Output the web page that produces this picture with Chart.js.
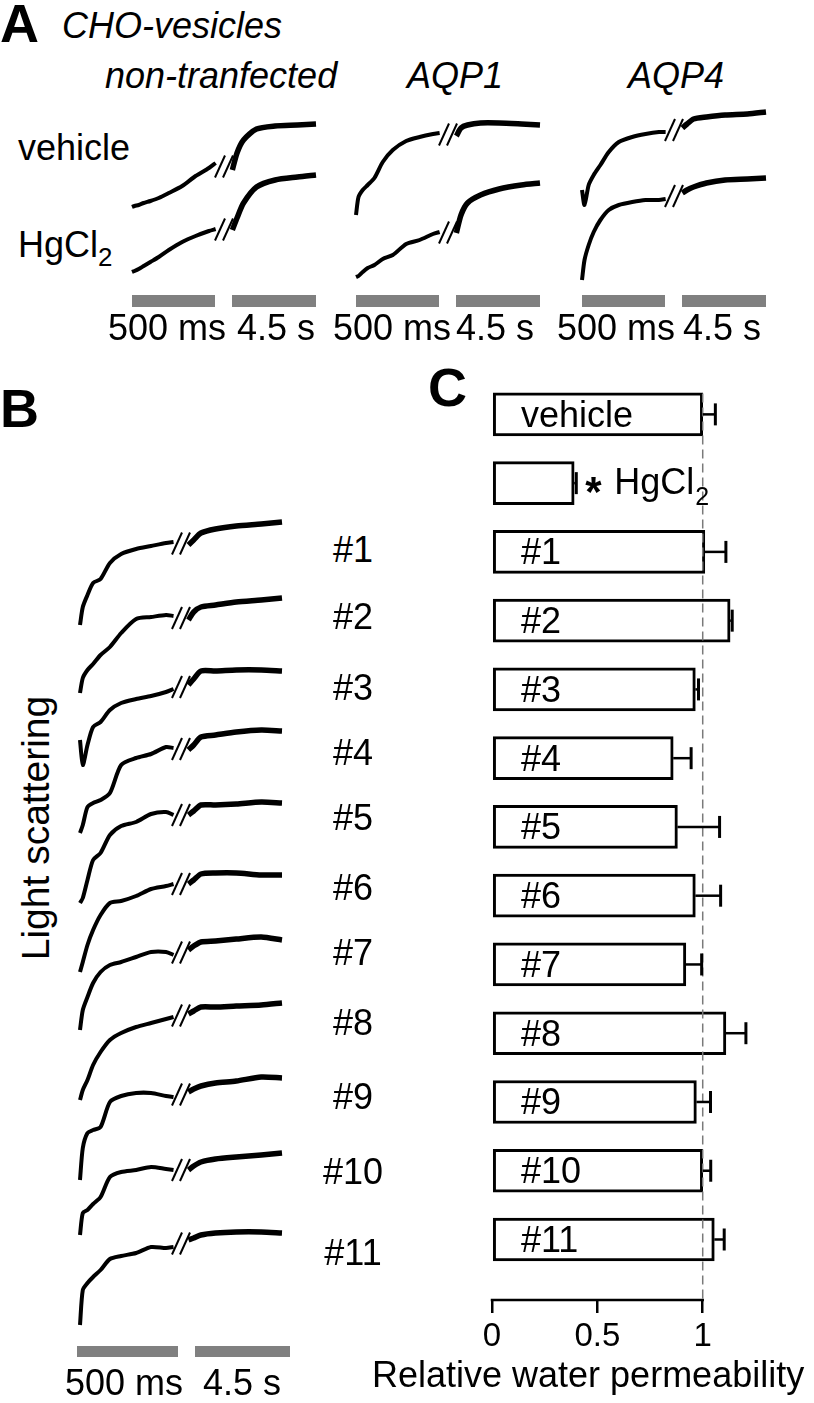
<!DOCTYPE html>
<html>
<head>
<meta charset="utf-8">
<title>CHO vesicles - water permeability</title>
<script src="https://cdn.jsdelivr.net/npm/chart.js@4.4.1/dist/chart.umd.min.js"></script>
<style>
  html, body { margin: 0; padding: 0; background: #fff; }
  #figure {
    position: relative;
    width: 814px;
    height: 1403px;
    overflow: hidden;
    font-family: "Liberation Sans", Arial, sans-serif;
    color: #000;
  }
  #figure canvas { position: absolute; }
  .txt { position: absolute; white-space: nowrap; line-height: 1; }
  .txt .sub { font-size: 0.72em; position: relative; top: 0.38em; }
  .scalebar { position: absolute; background: #808080; }
</style>
</head>
<body>
<div id="figure"></div>
<script>
// time samples of the stopped-flow traces (fast part / slow part)
const fastTimesMs = [0, 15, 40, 70, 110, 160, 220, 300, 380, 460, 500];
const slowTimesS = [0.5, 0.75, 1.1, 1.8, 2.8, 4.0, 5.0];

// panel A: light scattering (a.u.), vehicle and HgCl2
const cellTypes = ["non-tranfected", "AQP1", "AQP4"];
const nonTfVehicleFast = [0.03, 0.04, 0.05, 0.07, 0.09, 0.12, 0.17, 0.24, 0.34, 0.42, 0.47];
const nonTfVehicleSlow = [0.40, 0.57, 0.70, 0.81, 0.84, 0.85, 0.86];
const nonTfHgFast = [0.03, 0.04, 0.06, 0.09, 0.13, 0.18, 0.25, 0.33, 0.39, 0.44, 0.46];
const nonTfHgSlow = [0.45, 0.57, 0.72, 0.88, 0.95, 0.98, 1.00];
const aqp1VehicleFast = [0.05, 0.23, 0.30, 0.35, 0.42, 0.58, 0.70, 0.79, 0.83, 0.86, 0.87];
const aqp1VehicleSlow = [0.84, 0.92, 0.95, 0.97, 0.97, 0.96, 0.95];
const aqp1HgFast = [0.03, 0.04, 0.08, 0.12, 0.15, 0.21, 0.25, 0.36, 0.40, 0.46, 0.48];
const aqp1HgSlow = [0.47, 0.65, 0.77, 0.85, 0.91, 0.95, 0.97];
const aqp4VehicleFast = [0.20, 0.05, 0.25, 0.35, 0.45, 0.58, 0.68, 0.73, 0.76, 0.78, 0.78];
const aqp4VehicleSlow = [0.82, 0.86, 0.91, 0.93, 0.95, 0.96, 0.98];
const aqp4HgFast = [0.02, 0.22, 0.37, 0.50, 0.62, 0.72, 0.77, 0.80, 0.82, 0.82, 0.83];
const aqp4HgSlow = [0.89, 0.92, 0.95, 0.99, 1.02, 1.03, 1.04];

// panel B: light scattering (a.u.) of clones #1..#11
const cloneFast = [
  [0.00, 0.18, 0.30, 0.42, 0.46, 0.62, 0.71, 0.76, 0.79, 0.82, 0.83],
  [0.00, 0.15, 0.23, 0.29, 0.38, 0.46, 0.60, 0.74, 0.76, 0.78, 0.77],
  [0.30, 0.05, 0.25, 0.43, 0.48, 0.60, 0.67, 0.71, 0.74, 0.78, 0.81],
  [0.00, 0.08, 0.26, 0.30, 0.33, 0.40, 0.68, 0.75, 0.79, 0.86, 0.85],
  [-0.03, 0.02, 0.20, 0.40, 0.47, 0.65, 0.74, 0.78, 0.86, 0.88, 0.85],
  [-0.02, 0.08, 0.25, 0.40, 0.55, 0.67, 0.69, 0.74, 0.81, 0.84, 0.86],
  [0.07, 0.27, 0.40, 0.54, 0.65, 0.72, 0.75, 0.80, 0.85, 0.85, 0.82],
  [0.07, 0.17, 0.27, 0.42, 0.55, 0.67, 0.74, 0.80, 0.84, 0.88, 0.90],
  [0.00, 0.32, 0.47, 0.50, 0.53, 0.78, 0.84, 0.87, 0.87, 0.84, 0.83],
  [0.05, 0.27, 0.30, 0.36, 0.43, 0.63, 0.68, 0.70, 0.73, 0.71, 0.70],
  [0.03, 0.38, 0.45, 0.51, 0.58, 0.69, 0.72, 0.75, 0.81, 0.80, 0.81]
];
const cloneSlow = [
  [0.80, 0.85, 0.92, 0.96, 0.99, 1.01, 1.03],
  [0.73, 0.81, 0.86, 0.88, 0.91, 0.93, 0.95],
  [0.85, 0.91, 0.99, 0.99, 1.00, 1.00, 0.99],
  [0.83, 0.88, 0.96, 0.98, 1.01, 1.03, 1.02],
  [0.85, 0.89, 0.95, 0.95, 0.96, 0.98, 0.97],
  [0.86, 0.90, 0.96, 0.97, 0.97, 0.95, 0.95],
  [0.87, 0.91, 0.95, 0.96, 0.98, 1.00, 0.97],
  [0.93, 0.96, 1.00, 1.00, 1.01, 1.02, 1.04],
  [0.88, 0.91, 0.94, 0.97, 0.99, 1.03, 1.02],
  [0.70, 0.74, 0.78, 0.81, 0.83, 0.85, 0.87],
  [0.88, 0.90, 0.93, 0.95, 0.96, 0.96, 0.95]
];

// panel C: relative water permeability, mean and SEM
const conditions = ["vehicle", "HgCl2", "#1", "#2", "#3", "#4", "#5", "#6", "#7", "#8", "#9", "#10", "#11"];
const permeability = [1.00, 0.39, 1.01, 1.13, 0.965, 0.86, 0.88, 0.965, 0.92, 1.11, 0.97, 1.00, 1.055];
const permeabilitySem = [0.06, 0.01, 0.10, 0.01, 0.015, 0.085, 0.20, 0.12, 0.075, 0.095, 0.067, 0.038, 0.047];
const xTicks = [0, 0.5, 1];

const FONT = '"Liberation Sans", Arial, sans-serif';
const fig = document.getElementById("figure");

function addCanvas(left, top, width, height) {
  const c = document.createElement("canvas");
  c.width = width;
  c.height = height;
  c.style.left = left + "px";
  c.style.top = top + "px";
  fig.appendChild(c);
  return c;
}

function addText(html, x, baseline, size, opts = {}) {
  const el = document.createElement("div");
  el.className = "txt";
  el.innerHTML = html;
  el.style.fontSize = size + "px";
  el.style.left = x + "px";
  el.style.top = (baseline - 0.8465 * size) + "px";
  if (opts.italic) el.style.fontStyle = "italic";
  if (opts.bold) el.style.fontWeight = "bold";
  if (opts.center) el.style.transform = "translateX(-50%)";
  fig.appendChild(el);
  return el;
}

function addScaleBar(left, top, width, height) {
  const el = document.createElement("div");
  el.className = "scalebar";
  el.style.left = left + "px";
  el.style.top = top + "px";
  el.style.width = width + "px";
  el.style.height = height + "px";
  fig.appendChild(el);
}

// "//" marks between the fast and the slow part of a trace
const breakMarks = {
  id: "breakMarks",
  afterDatasetsDraw(chart) {
    const { ctx, scales: { x, y } } = chart;
    const fast = chart.data.datasets[0].data;
    const slow = chart.data.datasets[1].data;
    const a = fast[fast.length - 1];
    const b = slow[0];
    const cx = (x.getPixelForValue(a.x) + x.getPixelForValue(b.x)) / 2;
    const cy = (y.getPixelForValue(a.y) + y.getPixelForValue(b.y)) / 2;
    ctx.save();
    ctx.strokeStyle = "#000";
    ctx.lineWidth = 2;
    [-4, 4].forEach((off) => {
      ctx.beginPath();
      ctx.moveTo(cx + off - 5, cy + 11);
      ctx.lineTo(cx + off + 5, cy - 11);
      ctx.stroke();
    });
    ctx.restore();
  }
};

function drawTrace(left, top, width, fast, slow, gapStart) {
  const canvas = addCanvas(left - 10, top, width + 20, 120);
  const lineStyle = {
    borderColor: "#000",
    borderJoinStyle: "round",
    pointRadius: 0,
    tension: 0.25,
    fill: false,
    clip: false
  };
  return new Chart(canvas, {
    type: "line",
    data: {
      datasets: [
        Object.assign({ data: fastTimesMs.map((t, i) => ({ x: t / 500, y: fast[i] })), borderWidth: 4 }, lineStyle),
        Object.assign({ data: slowTimesS.map((t, i) => ({ x: gapStart + (t - 0.5) / 4.5, y: slow[i] })), borderWidth: 5.5 }, lineStyle)
      ]
    },
    options: {
      responsive: false,
      animation: false,
      events: [],
      layout: { padding: { left: 10, right: 10, top: 0, bottom: 0 } },
      plugins: { legend: { display: false }, tooltip: { enabled: false } },
      scales: {
        x: { type: "linear", min: 0, max: gapStart + 1, display: false, offset: false },
        y: { type: "linear", min: -0.1, max: 1.1, display: false, offset: false }
      }
    },
    plugins: [breakMarks]
  });
}

// ---------- panel A ----------
addText("A", 0, 42, 54, { bold: true });
addText("CHO-vesicles", 62, 38, 36, { italic: true });
addText(cellTypes[0], 105, 88, 36, { italic: true });
addText(cellTypes[1], 407, 88, 36, { italic: true });
addText(cellTypes[2], 628, 88, 36, { italic: true });
addText("vehicle", 18, 160, 36);
addText('HgCl<span class="sub">2</span>', 18, 257, 36);

const groupLeft = [132, 356, 582];
const vehicleBase = [210, 220, 210];
const hgBase = [275, 280, 282];
const panelAVehicle = [[nonTfVehicleFast, nonTfVehicleSlow], [aqp1VehicleFast, aqp1VehicleSlow], [aqp4VehicleFast, aqp4VehicleSlow]];
const panelAHg = [[nonTfHgFast, nonTfHgSlow], [aqp1HgFast, aqp1HgSlow], [aqp4HgFast, aqp4HgSlow]];
const scaleLabelA = [[108, 237], [333, 456], [557, 683]];

groupLeft.forEach((gl, g) => {
  drawTrace(gl, vehicleBase[g] - 110, 184, panelAVehicle[g][0], panelAVehicle[g][1], 1.2);
  drawTrace(gl, hgBase[g] - 110, 184, panelAHg[g][0], panelAHg[g][1], 1.2);
  addScaleBar(gl, 295, 83, 12);
  addScaleBar(gl + 100, 295, 84, 12);
  addText("500 ms", scaleLabelA[g][0], 340, 36);
  addText("4.5 s", scaleLabelA[g][1], 340, 36);
});

// ---------- panel B ----------
addText("B", 0, 427, 54, { bold: true });
const cloneBase = [625, 693, 770, 833, 900, 970, 1037, 1107, 1180, 1240, 1328];
const cloneLabelY = [550, 617, 688, 753, 818, 888, 953, 1023, 1097, 1172, 1253];
cloneFast.forEach((fast, i) => {
  drawTrace(80, cloneBase[i] - 110, 202, fast, cloneSlow[i], 1.16);
  addText("#" + (i + 1), 353, cloneLabelY[i] + 12.5, 36, { center: true });
});
addScaleBar(77, 1346, 101, 11);
addScaleBar(195, 1346, 95, 11);
addText("500 ms", 65, 1395, 36);
addText("4.5 s", 203, 1395, 36);

const yTitle = document.createElement("div");
yTitle.className = "txt";
yTitle.textContent = "Light scattering";
yTitle.style.fontSize = "39px";
yTitle.style.left = "35px";
yTitle.style.top = "828px";
yTitle.style.transform = "translate(-50%, -50%) rotate(-90deg)";
fig.appendChild(yTitle);

// ---------- panel C ----------
addText("C", 428, 406, 54, { bold: true });

const permeabilityExtras = {
  id: "permeabilityExtras",
  afterDatasetsDraw(chart) {
    const { ctx, chartArea, scales: { x } } = chart;
    const bars = chart.getDatasetMeta(0).data;
    const x0 = x.getPixelForValue(0);
    const x1 = x.getPixelForValue(1);
    ctx.save();

    // reference line at 1
    ctx.strokeStyle = "#7a7a7a";
    ctx.lineWidth = 1.5;
    ctx.setLineDash([9, 5]);
    ctx.beginPath();
    ctx.moveTo(x1, bars[0].y - 21);
    ctx.lineTo(x1, chartArea.bottom);
    ctx.stroke();
    ctx.setLineDash([]);

    // axis line only from 0 to 1
    ctx.strokeStyle = "#000";
    ctx.lineWidth = 2.5;
    ctx.beginPath();
    ctx.moveTo(x0 - 1.25, chartArea.bottom);
    ctx.lineTo(x1 + 1.25, chartArea.bottom);
    ctx.stroke();

    bars.forEach((bar, i) => {
      const capX = x.getPixelForValue(permeability[i] + permeabilitySem[i]);
      ctx.lineWidth = 2.5;
      ctx.beginPath();
      ctx.moveTo(bar.x, bar.y);
      ctx.lineTo(capX, bar.y);
      ctx.stroke();
      ctx.lineWidth = 3;
      ctx.beginPath();
      ctx.moveTo(capX, bar.y - 11);
      ctx.lineTo(capX, bar.y + 11);
      ctx.stroke();

      ctx.fillStyle = "#000";
      ctx.textBaseline = "alphabetic";
      const label = conditions[i];
      if (label === "HgCl2") {
        ctx.font = "bold 42px " + FONT;
        ctx.fillText("*", capX + 9, bar.y + 23);
        ctx.font = "36px " + FONT;
        ctx.fillText("HgCl", capX + 38, bar.y + 11);
        const w = ctx.measureText("HgCl").width;
        ctx.font = "25px " + FONT;
        ctx.fillText("2", capX + 38 + w + 1, bar.y + 22);
      } else {
        ctx.font = "36px " + FONT;
        ctx.fillText(label, x0 + 29, bar.y + 12.5);
      }
    });
    ctx.restore();
  }
};

const barCanvas = addCanvas(360, 360, 454, 1000);
new Chart(barCanvas, {
  type: "bar",
  data: {
    datasets: [{
      data: permeability.map((v, i) => ({ x: v, y: i })),
      backgroundColor: "#fff",
      borderColor: "#000",
      borderWidth: 3,
      borderSkipped: false,
      barThickness: 43
    }]
  },
  options: {
    indexAxis: "y",
    responsive: false,
    animation: false,
    events: [],
    layout: { padding: { left: 132, right: 27, top: 20, bottom: 13 } },
    plugins: { legend: { display: false }, tooltip: { enabled: false } },
    scales: {
      x: {
        type: "linear",
        min: 0,
        max: 1.4,
        offset: false,
        afterBuildTicks: (scale) => { scale.ticks = xTicks.map((v) => ({ value: v })); },
        afterFit: (scale) => { scale.height = 47; },
        border: { display: false },
        grid: { drawOnChartArea: false, drawTicks: true, tickLength: 13, color: "#000", lineWidth: 2.5 },
        ticks: {
          color: "#000",
          font: { family: FONT, size: 33 },
          padding: 4,
          maxRotation: 0,
          autoSkip: false,
          callback: (v) => String(v)
        }
      },
      y: { type: "linear", min: -0.5, max: 12.88, reverse: true, display: false, offset: false }
    }
  },
  plugins: [permeabilityExtras]
});

addText("Relative water permeability", 372, 1387, 36);
</script>
</body>
</html>
